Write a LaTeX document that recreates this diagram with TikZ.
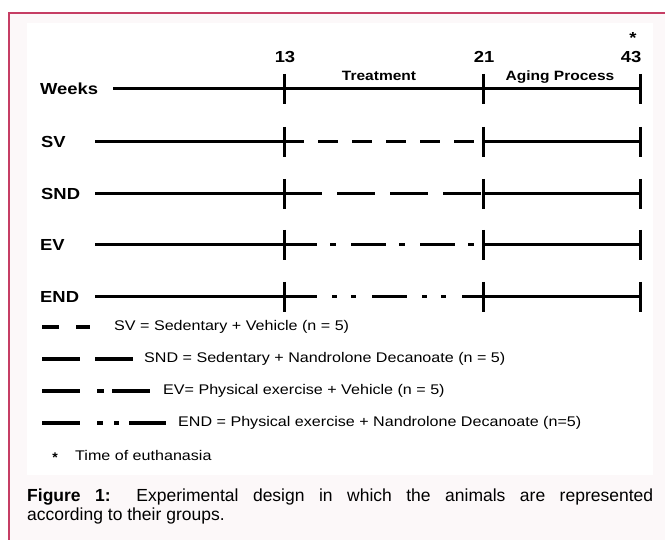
\documentclass[tikz,border=0pt]{standalone}
\usepackage{fontspec}
\setmainfont{Liberation Sans}
\newfontfamily\figfont{Liberation Sans}[FakeStretch=1.15]

\definecolor{framered}{RGB}{198,62,100}
\definecolor{pagegray}{RGB}{252,248,249}

\tikzset{
  bar/.style={line width=3pt},
  legbar/.style={line width=3.5pt},
  rowlabel/.style={anchor=west,inner sep=0pt,font=\figfont\bfseries\fontsize{16}{18}\selectfont},
  weeknum/.style={inner sep=0pt,font=\figfont\bfseries\fontsize{16}{18}\selectfont},
  phase/.style={inner sep=0pt,font=\figfont\bfseries\fontsize{13.5}{15}\selectfont},
  legtext/.style={anchor=west,inner sep=0pt,font=\figfont\fontsize{14}{16}\selectfont}
}

\begin{document}
\begin{tikzpicture}[x=1pt,y=1pt,yscale=-1,xscale=1]
    \useasboundingbox (0,0) rectangle (665,540);

    %Shape: page and frame
    \fill [white] (0,0) rectangle (665,540);
    \fill [pagegray] (9,13) rectangle (665,540);
    \draw [framered, line width=2pt] (9,540) -- (9,13) -- (665,13);
    %Shape: figure panel
    \fill [white] (27,23) rectangle (653,475);

    %Shape: Weeks axis
    \draw [bar] (113,89) -- (640,89);
    \draw [bar] (284,74) -- (284,104) (483,74) -- (483,104) (640,74) -- (640,104);
    %Shape: SV row
    \draw [bar] (95,142) -- (284,142) (483,142) -- (640,142);
    \draw [bar, dash pattern={on 20pt off 14pt}] (284,142) -- (483,142);
    \draw [bar] (284,127) -- (284,157) (483,127) -- (483,157) (640,127) -- (640,157);
    %Shape: SND row
    \draw [bar] (95,194) -- (284,194) (483,194) -- (640,194);
    \draw [bar, dash pattern={on 38pt off 15pt}] (284,194) -- (483,194);
    \draw [bar] (284,179) -- (284,209) (483,179) -- (483,209) (640,179) -- (640,209);
    %Shape: EV row
    \draw [bar] (95,245) -- (284,245) (483,245) -- (640,245);
    \draw [bar, dash pattern={on 35pt off 13pt on 6pt off 15pt}] (282,245) -- (483,245);
    \draw [bar] (284,230) -- (284,260) (483,230) -- (483,260) (640,230) -- (640,260);
    %Shape: END row
    \draw [bar] (95,297) -- (284,297) (483,297) -- (640,297);
    \draw [bar, dash pattern={on 35pt off 15pt on 5pt off 14pt on 5pt off 16pt}] (282,297) -- (483,297);
    \draw [bar] (284,282) -- (284,312) (483,282) -- (483,312) (640,282) -- (640,312);

    % Text Node
    \node [rowlabel] (weeks) at (40,89) {Weeks};
    \node [rowlabel] (sv) at (41,142) {SV};
    \node [rowlabel] (snd) at (41,194) {SND};
    \node [rowlabel] (ev) at (40,245) {EV};
    \node [rowlabel] (endrow) at (40,297) {END};
    % Text Node
    \node [weeknum] (w13) at (285,57) {13};
    \node [weeknum] (w21) at (484,57) {21};
    \node [weeknum] (w43) at (631,57) {43};
    \node [weeknum] (kill) at (633,38) {*};
    \node [phase] (treat) at (379,76) {Treatment};
    \node [phase] (aging) at (560,77) {Aging Process};

    %Shape: legend keys
    \draw [legbar, dash pattern={on 17pt off 17pt}] (42,327) -- (90,327);
    \draw [legbar, dash pattern={on 38pt off 15pt}] (42,359) -- (133,359);
    \draw [legbar, dash pattern={on 38pt off 17pt on 7pt off 8pt}] (42,391) -- (150,391);
    \draw [legbar, dash pattern={on 38pt off 17pt on 6pt off 11pt on 5pt off 10pt}] (42,423) -- (166,423);
    % Text Node
    \node [legtext] (keysv) at (114,327) {SV = Sedentary + Vehicle (n = 5)};
    \node [legtext] (keysnd) at (144,359) {SND = Sedentary + Nandrolone Decanoate (n = 5)};
    \node [legtext] (keyev) at (163,391) {EV= Physical exercise + Vehicle (n = 5)};
    \node [legtext] (keyend) at (178,423) {END = Physical exercise + Nandrolone Decanoate (n=5)};
    \node [inner sep=0pt, font=\bfseries\fontsize{14}{16}\selectfont] (keystar) at (55,458) {*};
    \node [legtext] (keytime) at (75,455) {Time of euthanasia};

    % Caption
    \node [anchor=north west, inner sep=0pt, text width=626pt, align=justify,
           font=\fontsize{17.5}{19}\selectfont] (caption) at (27,489)
      {\textbf{Figure 1:} Experimental design in which the animals are represented\linebreak according to their groups.};
\end{tikzpicture}
\end{document}
